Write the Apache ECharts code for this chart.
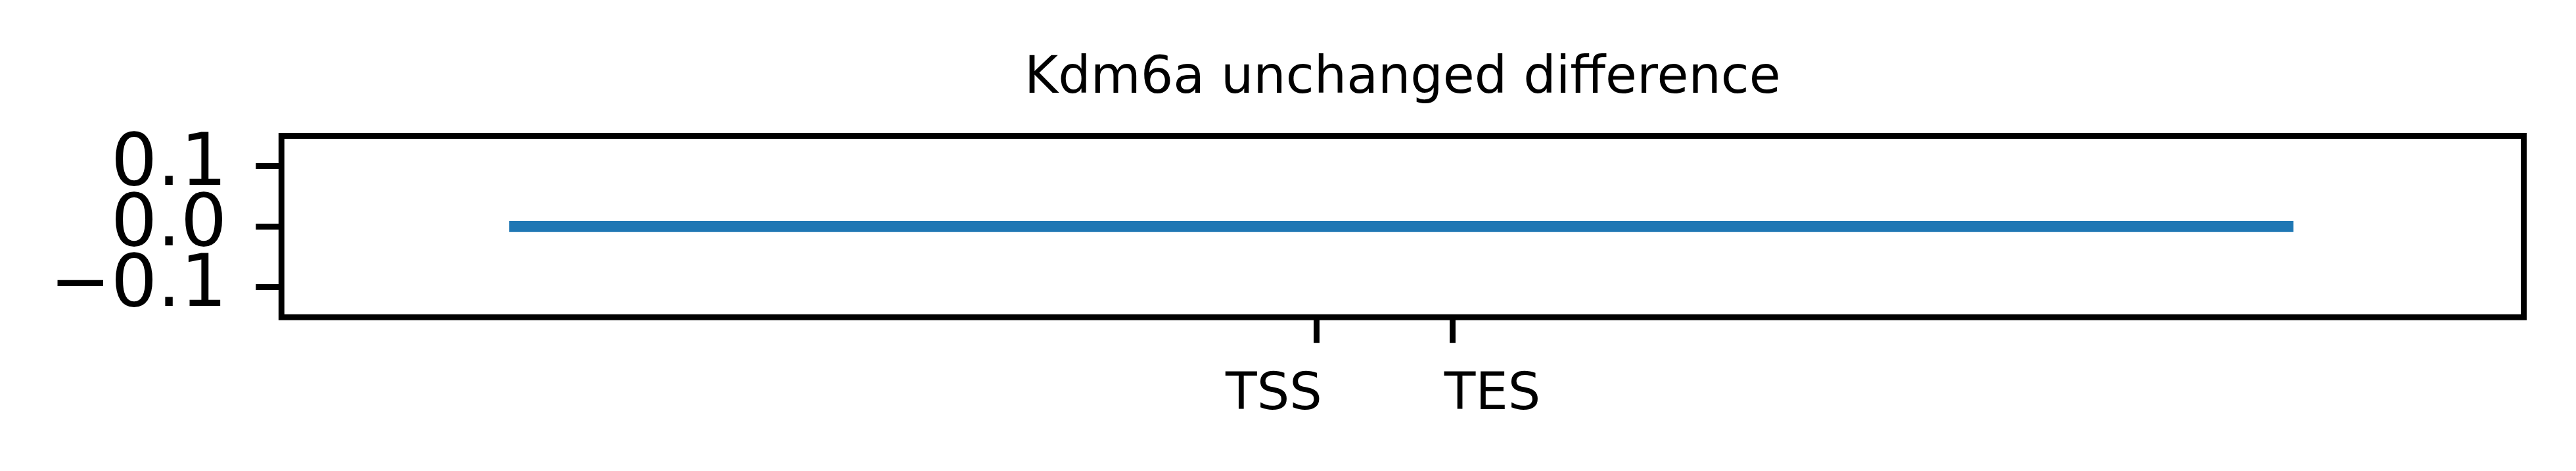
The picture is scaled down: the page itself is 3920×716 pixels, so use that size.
<!DOCTYPE html>
<html>
<head>
<meta charset="utf-8">
<script src="https://cdn.jsdelivr.net/npm/echarts@6/dist/echarts.min.js"></script>
<style>
html, body { margin: 0; padding: 0; background: #fff; }
#chart { width: 3920px; height: 716px; }
</style>
</head>
<body>
<div id="chart"></div>
<script>
// Data (x in relative metagene units, 0..1000 axis range)
const titleText = 'Kdm6a unchanged difference';
const positions = [101.6, 461.7, 522.1, 897.3];
const difference = [0, 0, 0, 0];
const yTickValues = [-0.1, 0, 0.1];
const xTickLabels = ['TSS', 'TES'];
const xTickPositions = [461.7, 522.1];

const X_MIN = 0, X_MAX = 1000;
const Y_MIN = -0.15, Y_MAX = 0.15;
const GRID = { left: 428.3, right: 79.5, top: 206.5, bottom: 233.8 };
const pxPerUnit = (3920 - GRID.left - GRID.right) / (X_MAX - X_MIN);
// small horizontal nudges of the tick label text (pixels)
const tssLabelPos = xTickPositions[0] + 8 / pxPerUnit;
const tesLabelPos = xTickPositions[1] - 12 / pxPerUnit;

const chart = echarts.init(document.getElementById('chart'), null, { renderer: 'canvas' });
const FONT = 'DejaVu Sans';
const fmtY = (v) => (v < -1e-9 ? '\u2212' : '') + Math.abs(v).toFixed(1);

// Tall tick labels touch each other (as in the reference), so the ticks are split
// across two coincident y axes to keep ECharts from hiding overlapping labels.
const yGroups = [
  yTickValues.filter((v, i) => i % 2 === 0),
  yTickValues.filter((v, i) => i % 2 === 1)
];
const yAxes = yGroups.map((vals) => ({
  type: 'value', min: Y_MIN, max: Y_MAX, position: 'left', offset: 0,
  axisLine: { show: false, onZero: false },
  splitLine: { show: false },
  axisTick: { show: true, inside: false, length: 39, lineStyle: { color: '#000', width: 8.9 }, customValues: vals },
  axisLabel: {
    customValues: vals,
    showMinLabel: true, showMaxLabel: true,
    formatter: fmtY,
    margin: 83,
    padding: [6, 0, 0, 0],
    fontFamily: FONT, fontSize: 111, color: '#000'
  }
}));

const option = {
  animation: false,
  backgroundColor: '#ffffff',
  title: {
    text: titleText,
    left: 2134.4,
    textAlign: 'center',
    top: 82,
    padding: 0,
    textStyle: { fontFamily: FONT, fontSize: 78, fontWeight: 'normal', color: '#000' }
  },
  grid: Object.assign({}, GRID, {
    show: true, borderColor: '#000', borderWidth: 8.9, backgroundColor: 'transparent'
  }),
  xAxis: [
    {
      type: 'value', min: X_MIN, max: X_MAX, position: 'bottom',
      axisLine: { show: false, onZero: false },
      splitLine: { show: false },
      axisTick: { show: true, inside: false, length: 39, lineStyle: { color: '#000', width: 8.9 }, customValues: xTickPositions },
      axisLabel: {
        customValues: [tssLabelPos],
        formatter: () => xTickLabels[0],
        showMinLabel: true, showMaxLabel: true,
        align: 'right', margin: 81,
        fontFamily: FONT, fontSize: 78, color: '#000'
      }
    },
    {
      type: 'value', min: X_MIN, max: X_MAX, position: 'bottom', gridIndex: 0,
      axisLine: { show: false, onZero: false },
      splitLine: { show: false },
      axisTick: { show: false },
      axisLabel: {
        customValues: [tesLabelPos],
        formatter: () => xTickLabels[1],
        showMinLabel: true, showMaxLabel: true,
        align: 'left', margin: 81,
        fontFamily: FONT, fontSize: 78, color: '#000'
      }
    }
  ],
  yAxis: yAxes,
  series: [{
    type: 'line',
    xAxisIndex: 0,
    yAxisIndex: 0,
    data: positions.map((x, i) => [x, difference[i]]),
    showSymbol: false,
    symbol: 'none',
    lineStyle: { color: '#1f77b4', width: 16.7, cap: 'butt' },
    clip: false
  }]
};
chart.setOption(option);
</script>
</body>
</html>
